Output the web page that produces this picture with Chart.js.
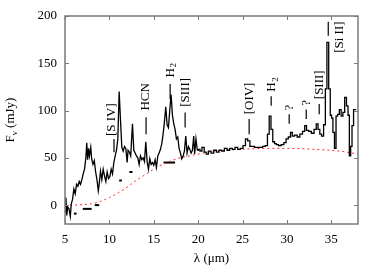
<!DOCTYPE html>
<html>
<head>
<meta charset="utf-8">
<script src="https://cdn.jsdelivr.net/npm/chart.js@4/dist/chart.umd.min.js"></script>
<style>
  body { margin: 0; background: #fff; }
  #wrap { width: 382px; height: 267px; }
</style>
</head>
<body>
<div id="wrap"><canvas id="myChart"></canvas></div>
<script>
// spectrum (micron, mJy)
const lambda = [5.0, 5.1, 5.2, 5.3, 5.45, 5.6, 5.7, 5.85, 6.0, 6.15, 6.3, 6.45, 6.6, 6.75, 6.9, 7.05, 7.2, 7.35, 7.45, 7.55,
  7.65, 7.75, 7.9, 8.0, 8.15, 8.3, 8.45, 8.6, 8.75, 8.85, 9.0, 9.15, 9.3, 9.45, 9.6, 9.75, 9.9, 10.05, 10.2, 10.35,
  10.5, 10.65, 10.8, 10.95, 11.1, 11.25, 11.4, 11.55, 11.7, 11.85, 12.0, 12.1, 12.25, 12.4, 12.6, 12.75, 12.9, 13.05, 13.2, 13.35,
  13.5, 13.65, 13.8, 13.95, 14.1, 14.25, 14.4, 14.55, 14.7, 14.85, 15.0, 15.15, 15.3, 15.45, 15.6, 15.75, 15.9, 16.05, 16.2, 16.35,
  16.5, 16.65, 16.8, 16.95, 17.1, 17.25, 17.4, 17.55, 17.7, 17.85, 18.0, 18.15, 18.3, 18.45, 18.6, 18.75, 18.9, 19.05, 19.2, 19.35,
  19.5, 19.6, 19.75, 19.9, 20.1, 20.3, 20.55, 20.8, 21.0, 21.3, 21.6, 21.9, 22.2, 22.5, 22.8, 23.1, 23.4, 23.7, 24.0, 24.3,
  24.6, 24.9, 25.2, 25.45, 25.7, 25.95, 26.2, 26.5, 26.8, 27.1, 27.4, 27.7, 27.9, 28.1, 28.3, 28.5, 28.7, 28.9, 29.2, 29.5,
  29.8, 30.0, 30.3, 30.5, 30.7, 31.0, 31.3, 31.6, 31.9, 32.1, 32.3, 32.6, 32.9, 33.2, 33.4, 33.6, 33.8, 34.0, 34.25, 34.4,
  34.6, 34.8, 34.95, 35.1, 35.25, 35.45, 35.6, 35.8, 36.0, 36.2, 36.4, 36.6, 36.8, 36.95, 37.1, 37.25, 37.4, 37.6, 37.8];
const flux = [-7, 8, -11, -2, -4, -12, 1, 6, 17, 12, 22, 20, 25, 22, 27, 33, 38, 50, 66, 48,
  60, 52, 61, 49, 43, 47, 35, 27, 15, 22, 36, 27, 38, 31, 25, 35, 28, 30, 38, 33,
  45, 52, 58, 70, 120, 90, 61, 57, 62, 60, 45, 58, 56, 52, 86, 58, 55, 52, 50, 43,
  52, 48, 50, 46, 67, 46, 38, 49, 43, 45, 42, 48, 40, 52, 55, 59, 65, 75, 88, 104,
  85, 82, 100, 117, 95, 86, 80, 70, 72, 60, 55, 49, 52, 57, 73, 55, 62, 59, 55, 58,
  73, 54, 70, 58, 59, 57, 61, 56, 54, 57, 55, 58, 56, 58, 57, 60, 58, 60, 59, 61,
  59, 60, 63, 70, 68, 62, 62, 61, 61, 61, 62, 63, 75, 94, 80, 67, 65, 64, 63, 64,
  66, 70, 72, 77, 73, 74, 72, 75, 78, 84, 79, 78, 76, 80, 86, 80, 75, 73, 85, 123,
  172, 123, 95, 92, 77, 60, 94, 96, 101, 94, 98, 114, 105, 95, 52, 62, 84, 101, 101];
// the long-wavelength part of the spectrum is drawn as steps
const stepFrom = 19.9;

// red dashed continuum
const contLambda = [5, 6, 7, 8, 9, 10, 11, 12, 13, 14, 15, 16, 17, 18, 19, 20, 22, 24, 26, 28, 30, 32, 34, 36, 38];
const contFlux = [0, 0, 0.5, 1.5, 4, 8, 13, 19, 26, 32, 38, 43, 47, 50, 52, 54, 57, 58.5, 59.5, 60, 60, 59.5, 58.5, 57, 54];

// short horizontal bars (from, to, level)
const barFrom = [6.0, 7.0, 8.35, 11.1, 12.25, 16.1];
const barTo = [6.3, 8.0, 8.85, 11.4, 12.6, 17.4];
const barLevel = [-9, -4, 0, 26, 35, 45];

// line identifications
const lineNames = ['[S IV]', 'HCN', 'H2', '[SIII]', '[OIV]', 'H2', '?', '?', '[SIII]', '[Si II]'];
const lineLambda = [10.52, 14.13, 16.84, 18.53, 25.74, 28.22, 30.25, 32.17, 33.63, 34.65];
const markLow = [56, 75, 112, 82, 75, 105, 86, 91, 96, 179];
const markHigh = [70, 93, 128, 98, 91, 115, 96, 101, 107, 194];
const nameLambda = [10.3, 14.13, 16.84, 18.53, 25.74, 28.22, 30.25, 32.17, 33.63, 35.9];
const nameStart = [73, 100, 135, 104, 96, 120, 100, 105, 112, 161];

const xTicks = [5, 10, 15, 20, 25, 30, 35];
const yTicks = [0, 50, 100, 150, 200];

const FONT = "'Liberation Serif', 'DejaVu Serif', serif";

const toXY = (xs, ys) => xs.map((x, i) => ({ x: x, y: ys[i] }));
const spectrum = toXY(lambda, flux);

const datasets = [
  {
    data: spectrum.filter(p => p.x <= stepFrom),
    borderColor: '#000',
    borderWidth: 1.3,
    pointRadius: 0
  },
  {
    data: spectrum.filter(p => p.x >= stepFrom),
    borderColor: '#000',
    borderWidth: 1.3,
    pointRadius: 0,
    stepped: 'middle'
  },
  {
    data: toXY(contLambda, contFlux),
    borderColor: '#ff2a2a',
    borderWidth: 1,
    borderDash: [2, 3],
    pointRadius: 0,
    cubicInterpolationMode: 'monotone'
  }
];
barFrom.forEach((b, i) => {
  datasets.push({
    data: [{ x: b, y: barLevel[i] }, { x: barTo[i], y: barLevel[i] }],
    borderColor: '#000',
    borderWidth: 2,
    pointRadius: 0
  });
});

const framePlugin = {
  id: 'frame',
  afterDraw(chart) {
    const ctx = chart.ctx;
    const a = chart.chartArea;
    const xs = chart.scales.x;
    const ys = chart.scales.y;
    ctx.save();

    // line identifications
    ctx.strokeStyle = '#000';
    ctx.fillStyle = '#000';
    ctx.lineWidth = 1.2;
    lineNames.forEach((name, i) => {
      const px = xs.getPixelForValue(lineLambda[i]);
      ctx.beginPath();
      ctx.moveTo(px, ys.getPixelForValue(markLow[i]));
      ctx.lineTo(px, ys.getPixelForValue(markHigh[i]));
      ctx.stroke();

      ctx.save();
      ctx.translate(xs.getPixelForValue(nameLambda[i]), ys.getPixelForValue(nameStart[i]));
      ctx.rotate(-Math.PI / 2);
      ctx.textAlign = 'left';
      ctx.textBaseline = 'middle';
      ctx.font = '13px ' + FONT;
      if (name === 'H2') {
        ctx.fillText('H', 0, 0);
        const w = ctx.measureText('H').width;
        ctx.font = '9px ' + FONT;
        ctx.fillText('2', w + 0.5, 4);
      } else {
        ctx.fillText(name, 0, 0);
      }
      ctx.restore();
    });

    // frame and inward ticks
    ctx.strokeStyle = '#7a7a7a';
    ctx.lineWidth = 1.5;
    ctx.strokeRect(a.left, a.top, a.right - a.left, a.bottom - a.top);
    ctx.lineWidth = 1;
    ctx.beginPath();
    xTicks.forEach(t => {
      const px = Math.round(xs.getPixelForValue(t)) + 0.5;
      ctx.moveTo(px, a.bottom); ctx.lineTo(px, a.bottom - 4);
      ctx.moveTo(px, a.top); ctx.lineTo(px, a.top + 4);
    });
    yTicks.forEach(t => {
      const py = Math.round(ys.getPixelForValue(t)) + 0.5;
      ctx.moveTo(a.left, py); ctx.lineTo(a.left + 4, py);
      ctx.moveTo(a.right, py); ctx.lineTo(a.right - 4, py);
    });
    ctx.stroke();

    // y axis title F_nu (mJy)
    ctx.translate(11, (a.top + a.bottom) / 2);
    ctx.rotate(-Math.PI / 2);
    ctx.fillStyle = '#000';
    ctx.textBaseline = 'middle';
    ctx.font = '13px ' + FONT;
    const wF = ctx.measureText('F').width;
    ctx.font = '9px ' + FONT;
    const wNu = ctx.measureText('\u03BD').width;
    ctx.font = '13px ' + FONT;
    const wRest = ctx.measureText(' (mJy)').width;
    let x0 = -(wF + wNu + wRest) / 2;
    ctx.textAlign = 'left';
    ctx.fillText('F', x0, 0);
    ctx.font = '9px ' + FONT;
    ctx.fillText('\u03BD', x0 + wF, 4);
    ctx.font = '13px ' + FONT;
    ctx.fillText(' (mJy)', x0 + wF + wNu, 0);
    ctx.restore();
  }
};

const config = {
  type: 'line',
  data: { datasets },
  options: {
    responsive: true,
    maintainAspectRatio: false,
    animation: false,
    layout: { padding: { top: 16, right: 24, left: 0, bottom: 0 } },
    plugins: { legend: { display: false }, tooltip: { enabled: false } },
    scales: {
      x: {
        type: 'linear',
        min: 5,
        max: 38,
        afterBuildTicks: s => { s.ticks = xTicks.map(v => ({ value: v })); },
        afterFit: s => { s.height = 43; },
        grid: { display: false, drawTicks: false },
        border: { display: false },
        ticks: { color: '#000', padding: 8, font: { family: FONT, size: 13 } },
        title: { display: true, text: 'λ (μm)', color: '#000', padding: { top: 0, bottom: 1 }, font: { family: FONT, size: 13 } }
      },
      y: {
        type: 'linear',
        min: -20,
        max: 200,
        afterBuildTicks: s => { s.ticks = yTicks.map(v => ({ value: v })); },
        afterFit: s => { s.width = 65; },
        grid: { display: false, drawTicks: false },
        border: { display: false },
        ticks: { color: '#000', padding: 8, font: { family: FONT, size: 13 } }
      }
    }
  },
  plugins: [framePlugin]
};

new Chart(document.getElementById('myChart'), config);
</script>
</body>
</html>
